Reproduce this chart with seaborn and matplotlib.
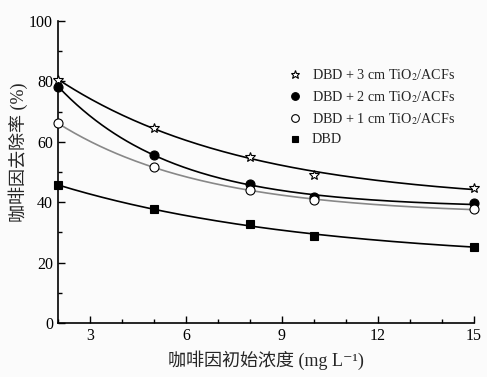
import numpy as np
import pandas as pd
import matplotlib
matplotlib.use("Agg")
import matplotlib.pyplot as plt
import seaborn as sns
from matplotlib.ticker import MultipleLocator

# ---- data ----
conc = [2, 5, 8, 10, 15]
labels = ["DBD + 3 cm TiO$_2$/ACFs", "DBD + 2 cm TiO$_2$/ACFs",
          "DBD + 1 cm TiO$_2$/ACFs", "DBD"]
star_vals = [80.5, 64.7, 55.1, 49.0, 44.6]
fcirc_vals = [78.3, 55.7, 45.9, 41.8, 39.6]
ocirc_vals = [66.1, 51.6, 44.0, 40.7, 37.7]
square_vals = [45.7, 37.6, 32.7, 28.8, 25.3]
xticks = [3, 6, 9, 12, 15]
yticks = [0, 20, 40, 60, 80, 100]

sns.set_theme(style="ticks")
plt.rcParams["font.family"] = ["Liberation Serif", "Noto Sans CJK SC", "DejaVu Sans"]
plt.rcParams["mathtext.fontset"] = "stix"

fig = plt.figure(figsize=(4.87, 3.77), dpi=100, facecolor="#fbfbfb")
ax = fig.add_axes([58/487, 1-323/377, (474-58)/487, (323-21)/377])
ax.set_facecolor("#fbfbfb")


def fit_decay(x, y):
    x = np.asarray(x, float); y = np.asarray(y, float)
    best = None
    for k in np.linspace(0.01, 2.0, 800):
        A = np.column_stack([np.ones_like(x), np.exp(-k * x)])
        coef, *_ = np.linalg.lstsq(A, y, rcond=None)
        r = np.sum((A @ coef - y) ** 2)
        if best is None or r < best[0]:
            best = (r, k, coef)
    _, k, coef = best
    xs = np.linspace(x.min(), x.max(), 200)
    return xs, coef[0] + coef[1] * np.exp(-k * xs)


series = [
    (star_vals, "*", "white", "black", 7.5, "black"),
    (fcirc_vals, "o", "black", "black", 6.5, "black"),
    (ocirc_vals, "o", "white", "black", 6.5, "#888888"),
    (square_vals, "s", "black", "black", 5.5, "black"),
]

rows = []
for lab, (vals, *_rest) in zip(labels, series):
    for c, v in zip(conc, vals):
        rows.append({"conc": c, "rate": v, "series": lab})
df = pd.DataFrame(rows)

for lab, (vals, mk, fc, ec, ms, lc) in zip(labels, series):
    xs, ys = fit_decay(conc, vals)
    sns.lineplot(x=xs, y=ys, ax=ax, color=lc, lw=1.2, zorder=2)
    sub = df[df["series"] == lab]
    ax.plot(sub["conc"], sub["rate"], linestyle="none", marker=mk, markersize=ms,
            markerfacecolor=fc, markeredgecolor=ec, markeredgewidth=0.8,
            label=lab, zorder=3, clip_on=False)

ax.set_xlim(2, 15)
ax.set_ylim(0, 100)
ax.set_xticks(xticks)
ax.set_yticks(yticks)
ax.xaxis.set_minor_locator(MultipleLocator(1))
ax.yaxis.set_minor_locator(MultipleLocator(10))
ax.tick_params(which="both", direction="in", colors="black", labelsize=11.5)
ax.tick_params(which="major", length=5, width=1.0)
ax.tick_params(which="minor", length=3, width=1.0)
for s in ["top", "right"]:
    ax.spines[s].set_visible(False)
for s in ["left", "bottom"]:
    ax.spines[s].set_color("black")
    ax.spines[s].set_linewidth(1.2)

ax.set_xlabel("咖啡因初始浓度 (mg L⁻¹)", fontsize=13, labelpad=5)
ax.set_ylabel("咖啡因去除率 (%)", fontsize=13, labelpad=1, y=0.566)

leg = ax.legend(loc="upper right", bbox_to_anchor=(0.985, 0.89), frameon=False,
                fontsize=10.2, handletextpad=0.6, labelspacing=0.45,
                handlelength=1.2, markerscale=0.85)

fig.savefig("out.png", dpi=100, facecolor=fig.get_facecolor())
